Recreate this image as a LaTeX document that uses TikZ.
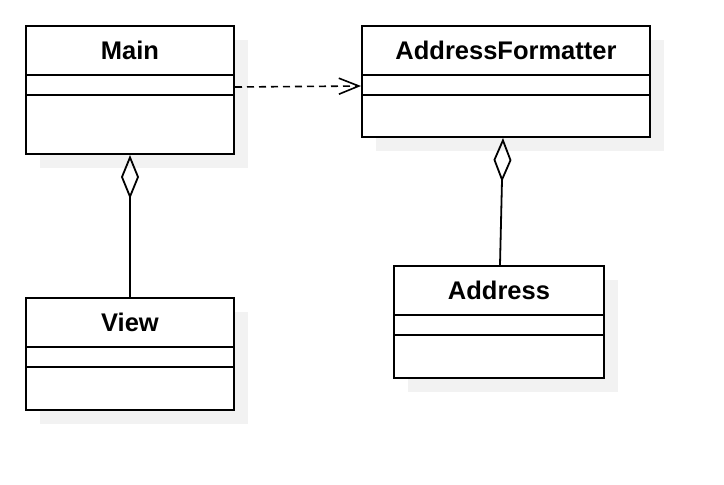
\documentclass[tikz,border=0pt]{standalone}
\usepackage{fontspec}
\setmainfont{Liberation Sans}
\usepackage{tikz}
\usetikzlibrary{arrows.meta,calc,shadows}

\begin{document}
\begin{tikzpicture}[x=0.5pt,y=-0.5pt]
    % Styles
    \tikzstyle{classe}=[draw,line width=1pt,fill=white,inner sep=0pt,
        general shadow={fill=black!5,shadow xshift=7pt,shadow yshift=-7pt}]
    \tikzstyle{titre}=[font=\fontsize{12.75}{15}\selectfont\bfseries]
    \tikzstyle{trait}=[line width=1pt]
    \tikzstyle{dependance}=[-{Straight Barb[length=10pt,width=8pt,line width=0.8pt]},line width=0.8pt,dash pattern=on 3.5pt off 2.5pt]
    \tikzstyle{agregation}=[{Diamond[open,length=22pt,width=9pt,line width=0.9pt]}-,line width=0.9pt]
    % Dimensions
    \def\HauteurTitre{50}
    \def\HauteurAttributs{20}
    \useasboundingbox (0,0) rectangle (724,484);
    % Classes
    \node[classe,minimum width=104pt,minimum height=64pt] (Main) at (130,90) {};
    \node[classe,minimum width=144pt,minimum height=55.5pt] (AddressFormatter) at (506,81.5) {};
    \node[classe,minimum width=104pt,minimum height=56pt] (View) at (130,354) {};
    \node[classe,minimum width=105pt,minimum height=56pt] (Address) at (499,322) {};
    % Titres et compartiments
    \foreach \c in {Main,AddressFormatter,View,Address} {
        \node[titre] (t\c) at ($(\c.north)+(0,\HauteurTitre/2)$) {\c};
        \draw[trait] ($(\c.north west)+(0,\HauteurTitre)$) -- ($(\c.north east)+(0,\HauteurTitre)$);
        \draw[trait] ($(\c.north west)+(0,\HauteurTitre+\HauteurAttributs)$) -- ($(\c.north east)+(0,\HauteurTitre+\HauteurAttributs)$);
    }
    % Liens
    \draw[dependance] ($(Main.north east)+(0,62)$) -- ($(AddressFormatter.north west)+(0,61)$);
    \draw[agregation] (Main.south) -- (View.north);
    \draw[agregation] ($(AddressFormatter.south)+(-3,0)$) -- ($(Address.north)+(1,0)$);
\end{tikzpicture}
\end{document}
